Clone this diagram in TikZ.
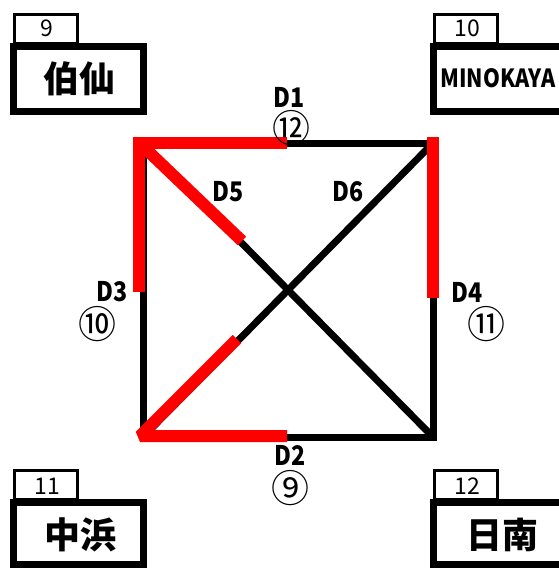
\documentclass[tikz,border=0pt]{standalone}
\usepackage{fontspec}
\setmainfont{Noto Sans CJK JP}
\newfontfamily\narrowfont[FakeStretch=0.86]{Noto Sans CJK JP}
\begin{document}
\begin{tikzpicture}[x=1pt,y=-1pt,
  blk/.style={line width=7pt,black},
  redl/.style={line width=12pt,red},
  numbox/.style={draw=black,line width=3pt,fill=white},
  bigbox/.style={draw=black,line width=7pt,fill=white},
  numtxt/.style={font=\fontsize{23}{23}\selectfont},
  nametxt/.style={font=\fontsize{36}{36}\selectfont\bfseries},
  dlab/.style={font=\fontsize{27}{27}\selectfont\bfseries\narrowfont},
  circ/.style={font=\fontsize{38}{38}\selectfont}]
\useasboundingbox (0,0) rectangle (559,568);
\clip (0,0) rectangle (559,568);
% boxes
\draw[numbox] (14.5,14.5) rectangle (77.5,43);
\draw[bigbox] (13.5,46.5) rectangle (143.5,111.5);
\node[numtxt] (n9) at (47,28) {9};
\node[nametxt] (b9) at (79,79) {伯仙};
\draw[numbox] (434.5,14.5) rectangle (497.5,43);
\draw[bigbox] (433.5,46.5) rectangle (620,111.5);
\node[numtxt] (n10) at (467,28) {10};
\node[font=\fontsize{25}{25}\selectfont\bfseries\narrowfont] (b10) at (498,78) {MINOKAYA};
\draw[numbox] (14.5,470.5) rectangle (77.5,499);
\draw[bigbox] (13.5,502.5) rectangle (143.5,564.5);
\node[numtxt] (n11) at (47,486) {11};
\node[nametxt] (b11) at (80,535) {中浜};
\draw[numbox] (434.5,470.5) rectangle (497.5,499);
\draw[bigbox] (433.5,502.5) rectangle (620,564.5);
\node[numtxt] (n12) at (467,486) {12};
\node[nametxt] (b12) at (502,535) {日南};
% square
\coordinate (tl) at (143,143);
\coordinate (tr) at (433,143);
\coordinate (bl) at (143,437);
\coordinate (br) at (433,437);
\draw[blk] (tl) -- (tr) -- (br) -- (bl) -- cycle;
\draw[blk] (tl) -- (br);
\draw[blk] (bl) -- (tr);
% red segments
\coordinate (rt) at (287,142.5);
\coordinate (rtl) at (139,142.5);
\coordinate (rl) at (139,292);
\coordinate (r5) at (242,241);
\coordinate (rr1) at (433,137);
\coordinate (rr2) at (433,298);
\coordinate (rbl) at (140,436);
\coordinate (rb) at (287,436);
\coordinate (r6) at (237,339);
\draw[redl,line join=miter] (rt) -- (rtl) -- (rl);
\draw[redl] (rtl) -- (r5);
\draw[redl] (rr1) -- (rr2);
\draw[redl,line join=miter,miter limit=1.6] (rb) -- (rbl) -- (r6);
% labels
\node[dlab] (d1) at (289,97) {D1};
\node[circ] (c12) at (291,128) {⑫};
\node[dlab] (d5) at (228,192) {D5};
\node[dlab] (d6) at (348,192) {D6};
\node[dlab] (d3) at (112,292) {D3};
\node[circ] (c10) at (97,324) {⑩};
\node[dlab] (d4) at (467,292) {D4};
\node[circ] (c11) at (486,324) {⑪};
\node[dlab] (d2) at (290,455) {D2};
\node[circ] (c9) at (290,488) {⑨};
\end{tikzpicture}
\end{document}
